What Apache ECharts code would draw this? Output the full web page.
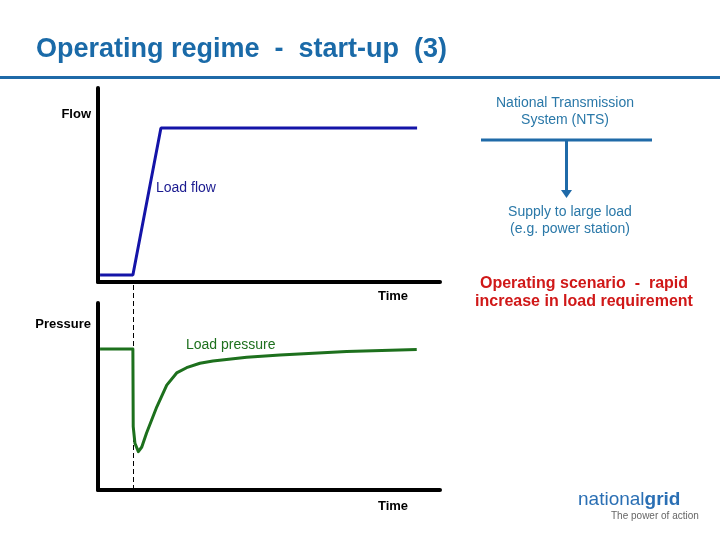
<!DOCTYPE html>
<html>
<head>
<meta charset="utf-8">
<script src="https://cdn.jsdelivr.net/npm/echarts@6/dist/echarts.min.js"></script>
<style>html,body{margin:0;padding:0;background:#fff}#c{width:720px;height:540px}</style>
</head>
<body>
<div id="c"></div>
<script>
// Time axis runs 0..100, values axes 0..100 (relative units)
var flowTime   = [0.6, 10.2, 18.4, 93.3];
var flowValues = [3.6, 3.6, 79.4, 79.4];

var pressureTime   = [0.6, 10.2, 10.3, 10.8, 11.8, 12.8, 14.2, 17.2, 20.1, 23.0, 25.9, 29.8, 33.6, 43.5, 53.2, 72.7, 93.2];
var pressureValues = [75.4, 75.4, 33.9, 25.0, 20.5, 23.0, 30.5, 44.5, 56.1, 62.6, 65.4, 67.8, 69.0, 71.0, 72.2, 74.0, 75.2];

var eventTime = 10.2;

var titleText = 'Operating regime  -  start-up  (3)';
var FONT = '"Liberation Sans", Arial, sans-serif';

function pairs(xs, ys) { return xs.map(function (x, i) { return [x, ys[i]]; }); }

var axisStyle = { show: true, onZero: false, lineStyle: { color: '#000', width: 4 } };

var chart = echarts.init(document.getElementById('c'), null, { renderer: 'canvas' });
var option = {
  backgroundColor: '#fff',
  animation: false,
  title: {
    text: titleText, left: 31, top: 31,
    textStyle: { fontFamily: FONT, fontSize: 27, fontWeight: 'bold', color: '#1a6aa8' }
  },
  grid: [
    { left: 98, top: 88, width: 342, height: 194 },
    { left: 98, top: 303, width: 342, height: 187 }
  ],
  xAxis: [
    { gridIndex: 0, type: 'value', min: 0, max: 100, axisLine: axisStyle, axisTick: { show: false }, axisLabel: { show: false }, splitLine: { show: false } },
    { gridIndex: 1, type: 'value', min: 0, max: 100, axisLine: axisStyle, axisTick: { show: false }, axisLabel: { show: false }, splitLine: { show: false } }
  ],
  yAxis: [
    { gridIndex: 0, type: 'value', min: 0, max: 100, axisLine: axisStyle, axisTick: { show: false }, axisLabel: { show: false }, splitLine: { show: false } },
    { gridIndex: 1, type: 'value', min: 0, max: 100, axisLine: axisStyle, axisTick: { show: false }, axisLabel: { show: false }, splitLine: { show: false } }
  ],
  series: [
    { name: 'Load flow', type: 'line', xAxisIndex: 0, yAxisIndex: 0, data: pairs(flowTime, flowValues),
      showSymbol: false, symbol: 'none', lineStyle: { color: '#1414a8', width: 3 }, z: 3 },
    { name: 'Load pressure', type: 'line', xAxisIndex: 1, yAxisIndex: 1, data: pairs(pressureTime, pressureValues),
      showSymbol: false, symbol: 'none', lineStyle: { color: '#1d701d', width: 3, join: 'round' }, z: 3 }
  ]
};
chart.setOption(option);

var ex = chart.convertToPixel({ xAxisIndex: 0 }, eventTime);
var topAxisY = chart.convertToPixel({ yAxisIndex: 0 }, 0);
var botAxisY = chart.convertToPixel({ yAxisIndex: 1 }, 0);

function txt(x, y, s, opt) {
  opt = opt || {};
  return { type: 'text', x: x, y: y, z: 10, style: {
    text: s, fill: opt.color || '#000', font: (opt.weight || 'normal') + ' ' + (opt.size || 13) + 'px ' + FONT,
    textAlign: opt.align || 'left', textVerticalAlign: 'middle'
  } };
}

var blue = '#2a78a8';
chart.setOption({
  graphic: [
    { type: 'line', z: 5, shape: { x1: 0, y1: 77.5, x2: 720, y2: 77.5 }, style: { stroke: '#1f6aa8', lineWidth: 3 } },
    { type: 'line', z: 1, shape: { x1: Math.round(ex) + 0.5, y1: topAxisY + 3, x2: Math.round(ex) + 0.5, y2: botAxisY }, style: { stroke: '#000', lineWidth: 1, lineDash: [5, 3] } },
    txt(91, 114, 'Flow', { weight: 'bold', align: 'right' }),
    txt(156, 188, 'Load flow', { color: '#1a1a90', size: 14 }),
    txt(393, 296, 'Time', { weight: 'bold', align: 'center' }),
    txt(91, 324, 'Pressure', { weight: 'bold', align: 'right' }),
    txt(186, 345, 'Load pressure', { color: '#1d701d', size: 14 }),
    txt(393, 506, 'Time', { weight: 'bold', align: 'center' }),
    txt(565, 103, 'National Transmission', { color: blue, align: 'center', size: 14 }),
    txt(565, 120, 'System (NTS)', { color: blue, align: 'center', size: 14 }),
    { type: 'line', z: 5, shape: { x1: 481, y1: 140, x2: 652, y2: 140 }, style: { stroke: '#1f6aa8', lineWidth: 3 } },
    { type: 'line', z: 5, shape: { x1: 566.5, y1: 140, x2: 566.5, y2: 192 }, style: { stroke: '#1f6aa8', lineWidth: 3 } },
    { type: 'polygon', z: 5, shape: { points: [[561, 190], [572, 190], [566.5, 198]] }, style: { fill: '#1f6aa8' } },
    txt(570, 212, 'Supply to large load', { color: blue, align: 'center', size: 14 }),
    txt(570, 229, '(e.g. power station)', { color: blue, align: 'center', size: 14 }),
    txt(584, 284, 'Operating scenario  -  rapid', { color: '#d01818', weight: 'bold', size: 16, align: 'center' }),
    txt(584, 302, 'increase in load requirement', { color: '#d01818', weight: 'bold', size: 16, align: 'center' }),
    { type: 'text', x: 578, y: 500, z: 10, style: { text: '{a|national}{b|grid}', textVerticalAlign: 'middle',
      rich: { a: { fontFamily: FONT, fontSize: 19, fill: '#2a6fb4', color: '#2a6fb4' }, b: { fontFamily: FONT, fontSize: 19, fontWeight: 'bold', fill: '#2a6fb4', color: '#2a6fb4' } } } },
    txt(611, 516, 'The power of action', { color: '#666', size: 10 })
  ]
});
</script>
</body>
</html>
